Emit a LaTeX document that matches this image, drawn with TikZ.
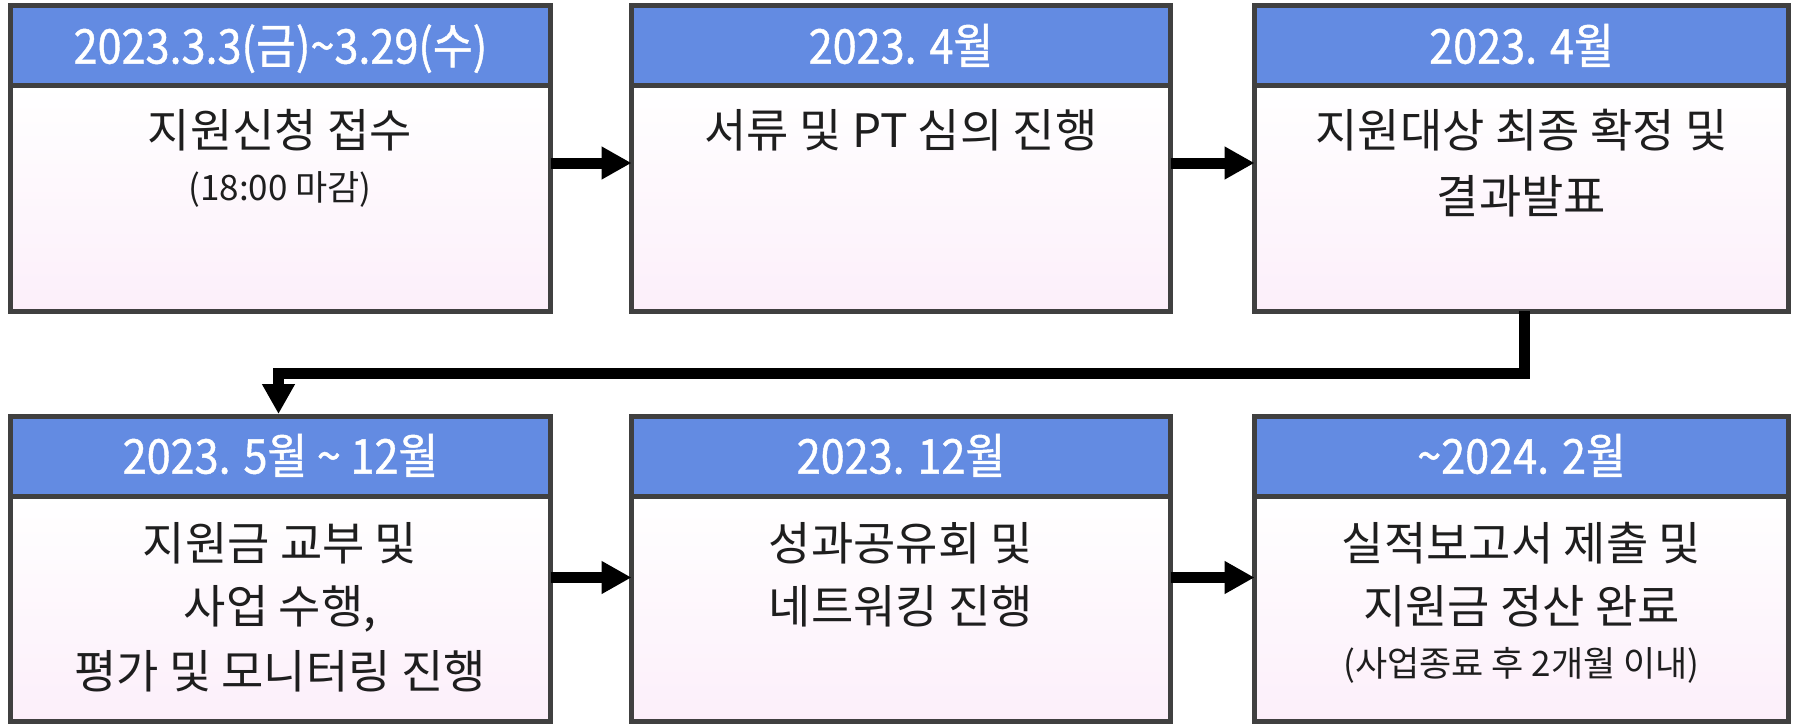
\documentclass[tikz,border=0pt]{standalone}
\usepackage{fontspec}
\setmainfont{Noto Sans CJK KR}
\newfontfamily\hdrfont[FakeStretch=0.9,FakeBold=0.9]{Noto Sans CJK KR}
\usetikzlibrary{arrows.meta}
\definecolor{hdrblue}{RGB}{99,139,226}
\definecolor{edgegray}{RGB}{64,64,64}
\definecolor{pinkbot}{RGB}{252,239,250}
\definecolor{txtgray}{RGB}{30,30,30}
\begin{document}
\begin{tikzpicture}[x=0.75pt,y=-0.75pt,
  hdr/.style={draw=edgegray, line width=3.75pt, fill=hdrblue, minimum width=#1, minimum height=60pt,
    anchor=north west, inner sep=0pt, outer sep=0pt, text=white,
    font=\hdrfont\fontsize{36pt}{40pt}\selectfont, text height=28.8pt, text depth=2.4pt},
  bodybox/.style={draw=edgegray, line width=3.75pt, top color=white, bottom color=pinkbot,
    minimum width=#1, minimum height=168.75pt, anchor=north west, inner sep=0pt, outer sep=0pt},
  bt/.style={anchor=base, text=txtgray, font=\fontsize{34.5pt}{40pt}\selectfont, inner sep=0pt},
  st/.style={anchor=base, text=txtgray, font=\fontsize{26.25pt}{30pt}\selectfont, inner sep=0pt},
  conn/.style={line width=8.25pt, -{Triangle[length=22.5pt,width=23.25pt]}}
]
\fill[white] (0,0) rectangle (1793,724);
\useasboundingbox (0,0) rectangle (1793,724);

% row 1
\node[bodybox=405pt] (b1) at (10.5,86) {};
\node[hdr=405pt] (h1) at (10.5,6) {2023.3.3(금)\textasciitilde3.29(수)};
\node[bodybox=404.25pt] (b2) at (631.5,86) {};
\node[hdr=404.25pt] (h2) at (631.5,6) {2023. 4월};
\node[bodybox=400.5pt] (b3) at (1254.5,86) {};
\node[hdr=400.5pt] (h3) at (1254.5,6) {2023. 4월};

% row 2
\node[bodybox=405pt] (b4) at (10.5,496) {};
\node[hdr=405pt] (h4) at (10.5,416) {2023. 5월 \textasciitilde{} 12월};
\node[bodybox=404.25pt] (b5) at (631.5,496) {};
\node[hdr=404.25pt] (h5) at (631.5,416) {2023. 12월};
\node[bodybox=400.5pt] (b6) at (1254.5,496) {};
\node[hdr=400.5pt] (h6) at (1254.5,416) {\textasciitilde2024. 2월};

% body texts
\node[bt] (t1a) at (280,147.5) {지원신청 접수};
\node[st] (t1b) at (280,200.5) {(18:00 마감)};
\node[bt] (t2a) at (901,147.5) {서류 및 PT 심의 진행};
\node[bt] (t3a) at (1521.5,147.5) {지원대상 최종 확정 및};
\node[bt] (t3b) at (1521.5,213.5) {결과발표};

\node[bt] (t4a) at (280,560.5) {지원금 교부 및};
\node[bt] (t4b) at (280,623.5) {사업 수행,};
\node[bt] (t4c) at (280,688.5) {평가 및 모니터링 진행};
\node[bt] (t5a) at (901,560.5) {성과공유회 및};
\node[bt] (t5b) at (901,623.5) {네트워킹 진행};
\node[bt] (t6a) at (1521.5,560.5) {실적보고서 제출 및};
\node[bt] (t6b) at (1521.5,623.5) {지원금 정산 완료};
\node[st] (t6c) at (1521.5,676) {(사업종료 후 2개월 이내)};

% connectors
\coordinate (r1) at (0,163);
\coordinate (r2) at (0,577.5);
\coordinate (mid) at (0,373);
\draw[conn] (b1.east |- r1) -- (b2.west |- r1);
\draw[conn] (b2.east |- r1) -- (b3.west |- r1);
\draw[conn] (b4.east |- r2) -- (b5.west |- r2);
\draw[conn] (b5.east |- r2) -- (b6.west |- r2);
\draw[conn] ([xshift=2.25pt]b3.south) -- ([xshift=2.25pt]b3.south |- mid) -| ([xshift=-1.5pt,yshift=1.5pt]h4.north);
\end{tikzpicture}
\end{document}
